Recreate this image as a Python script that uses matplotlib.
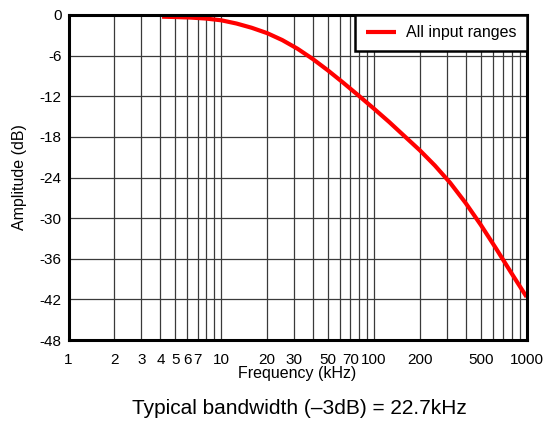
import matplotlib
matplotlib.use("Agg")
import matplotlib.pyplot as plt
from matplotlib.ticker import FixedLocator, NullFormatter, FixedFormatter

plt.rcParams['font.family'] = ['Liberation Sans', 'DejaVu Sans']

# Data
freq_khz = [4.1, 5.0, 6.3, 7.9, 10, 12.6, 15.8, 20, 25.1, 31.6, 39.8, 50.1,
            63.1, 79.4, 100, 126, 158, 200, 251, 316, 398, 501, 631, 794, 1000]
amp_db = [-0.25, -0.30, -0.38, -0.52, -0.78, -1.26, -1.88, -2.68, -3.70, -4.98,
          -6.50, -8.20, -10.02, -11.90, -13.83, -15.81, -17.86, -19.99, -22.24,
          -24.79, -27.74, -30.99, -34.49, -38.09, -41.64]
series_label = "All input ranges"

y_ticks = [0, -6, -12, -18, -24, -30, -36, -42, -48]
x_grid = [1, 2, 3, 4, 5, 6, 7, 8, 9, 10, 20, 30, 40, 50, 60, 70, 80, 90,
          100, 200, 300, 400, 500, 600, 700, 800, 900, 1000]
x_labeled = [1, 2, 3, 4, 5, 6, 7, 10, 20, 30, 50, 70, 100, 200, 500, 1000]

fig = plt.figure(figsize=(5.45, 4.26), dpi=100)
ax = fig.add_axes([68.5/545, 1-340/426, (526.6-68.5)/545, (340-15)/426])

ax.set_xscale('log')
ax.set_xlim(1, 1000)
ax.set_ylim(-48, 0)

ax.plot(freq_khz, amp_db, color='#ff0000', lw=3, label=series_label,
        solid_capstyle='butt', solid_joinstyle='round', zorder=3)

ax.xaxis.set_major_locator(FixedLocator(x_grid))
ax.xaxis.set_major_formatter(FixedFormatter(
    [str(v) if v in x_labeled else '' for v in x_grid]))
ax.xaxis.set_minor_locator(FixedLocator([]))
ax.xaxis.set_minor_formatter(NullFormatter())
ax.set_yticks(y_ticks)
ax.set_yticklabels([str(v) for v in y_ticks])

ax.tick_params(axis='both', which='both', length=0, labelsize=11)
ax.tick_params(axis='x', pad=9.5)
ax.tick_params(axis='y', pad=5)

ax.grid(True, which='major', color='#3a3a3a', lw=0.9)
for s in ax.spines.values():
    s.set_linewidth(2.2)
    s.set_color('black')
    s.set_zorder(4)

ax.set_xlabel('Frequency (kHz)', fontsize=11.5, labelpad=-1)
ax.set_ylabel('Amplitude (dB)', fontsize=11.5, labelpad=9)

leg = ax.legend(loc='upper right', borderaxespad=0, fancybox=False,
                framealpha=1, edgecolor='black', fontsize=11.5,
                handlelength=1.9, handletextpad=0.6, borderpad=0.65)
leg.get_frame().set_linewidth(1.8)
leg.set_zorder(5)

fig.text((129+470)/2/545, 1-409/426, 'Typical bandwidth (\u20133dB) = 22.7kHz',
         ha='center', va='center', fontsize=15)

fig.savefig('out.png', dpi=100)
